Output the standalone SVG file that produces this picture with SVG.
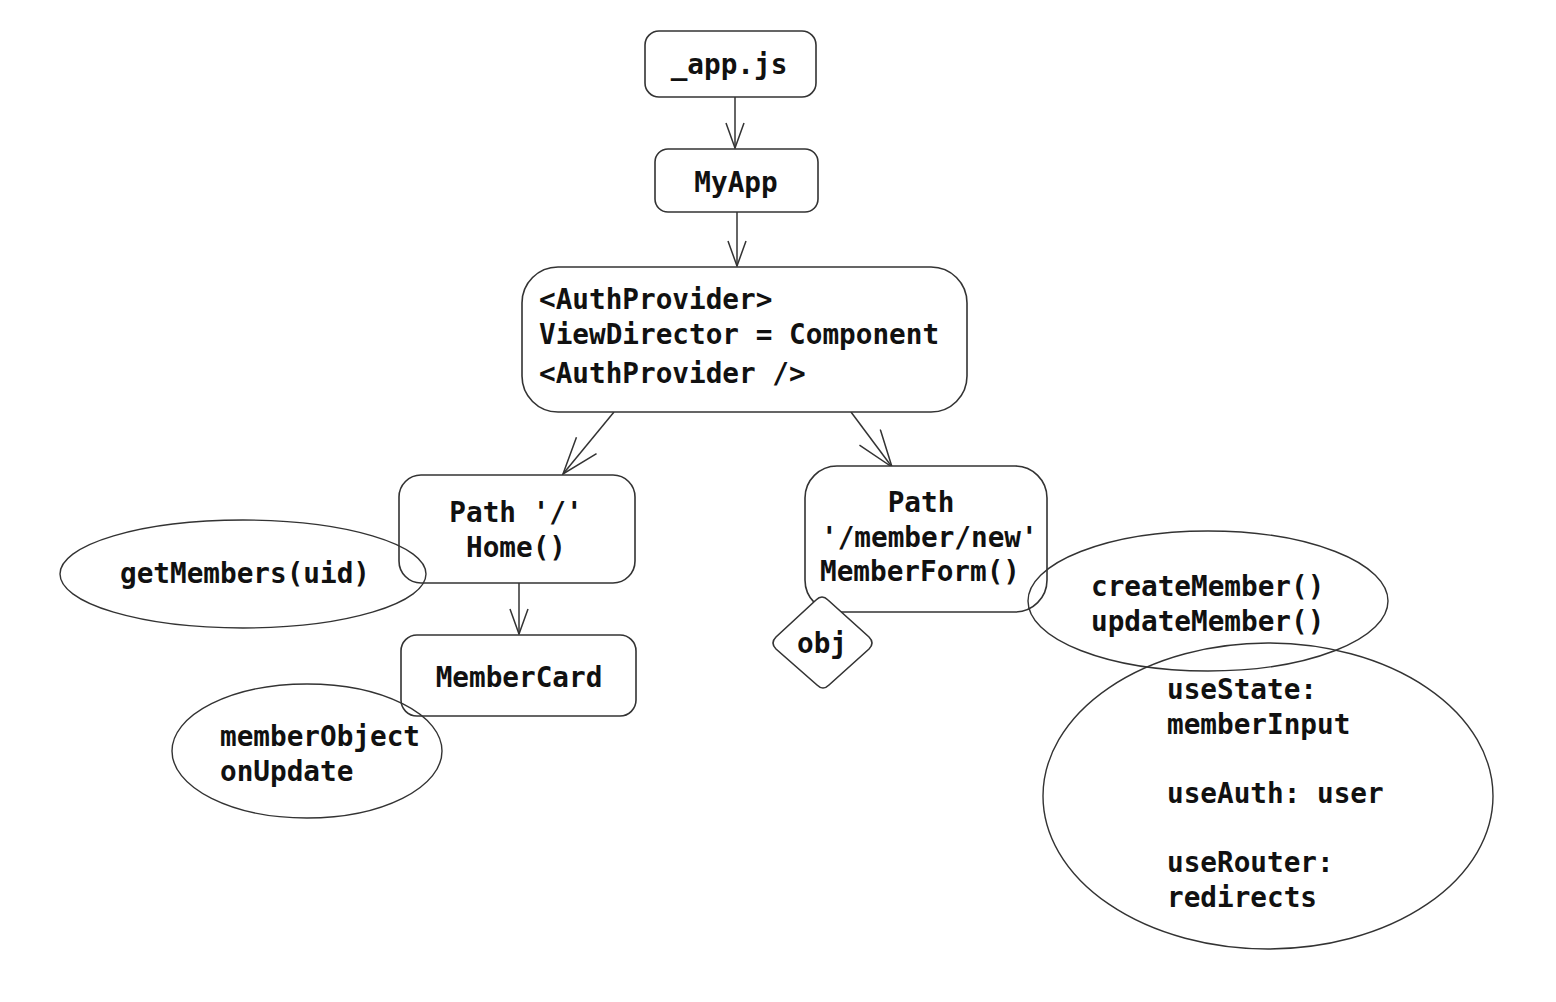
<svg xmlns="http://www.w3.org/2000/svg" width="1556" height="1002" viewBox="0 0 1556 1002">
  <style>
    .box { fill: #ffffff; stroke: #333333; stroke-width: 1.6; }
    .shape { fill: none; stroke: #333333; stroke-width: 1.4; }
    .edge { fill: none; stroke: #333333; stroke-width: 1.5; }
    text { font-family: "DejaVu Sans Mono", "Liberation Mono", monospace; font-size: 27.7px; font-weight: 600; fill: #111111; }
    .mid { text-anchor: middle; }
  </style>
  <defs>
    <marker id="vee" markerUnits="userSpaceOnUse" markerWidth="30" markerHeight="24" refX="26" refY="10" orient="auto">
      <path d="M1,1 L26,10 L1,19" fill="none" stroke="#333333" stroke-width="1.5"/>
    </marker>
    <marker id="vee-lg" markerUnits="userSpaceOnUse" markerWidth="42" markerHeight="30" refX="38" refY="14" orient="auto">
      <path d="M1,1 L38,14 L1,27" fill="none" stroke="#333333" stroke-width="1.5"/>
    </marker>
  </defs>

  <!-- connectors -->
  <g id="connectors">
    <line class="edge" x1="735" y1="97" x2="735" y2="148" marker-end="url(#vee)"/>
    <line class="edge" x1="737" y1="212" x2="737" y2="266" marker-end="url(#vee)"/>
    <line class="edge" x1="614" y1="412" x2="563" y2="474" marker-end="url(#vee-lg)"/>
    <line class="edge" x1="851" y1="412" x2="892" y2="467" marker-end="url(#vee-lg)"/>
    <line class="edge" x1="519" y1="583" x2="519" y2="634" marker-end="url(#vee)"/>
  </g>

  <g id="app-js">
    <rect class="box" x="645" y="31" width="171" height="66" rx="14"/>
    <text class="mid" x="729" y="74">_app.js</text>
  </g>

  <g id="my-app">
    <rect class="box" x="655" y="149" width="163" height="63" rx="13"/>
    <text class="mid" x="736" y="192">MyApp</text>
  </g>

  <g id="auth-provider">
    <rect class="box" x="522" y="267" width="445" height="145" rx="36"/>
    <text x="539" y="309">&lt;AuthProvider&gt;</text>
    <text x="539" y="344">ViewDirector = Component</text>
    <text x="539" y="383">&lt;AuthProvider /&gt;</text>
  </g>

  <g id="path-home">
    <rect class="box" x="399" y="475" width="236" height="108" rx="22"/>
    <text class="mid" x="516" y="522">Path '/'</text>
    <text class="mid" x="516" y="557">Home()</text>
  </g>

  <g id="get-members">
    <ellipse class="shape" cx="243" cy="574" rx="183" ry="54"/>
    <text x="120" y="583">getMembers(uid)</text>
  </g>

  <g id="member-card">
    <rect class="box" x="401" y="635" width="235" height="81" rx="16"/>
    <text class="mid" x="519" y="687">MemberCard</text>
  </g>

  <g id="member-props">
    <ellipse class="shape" cx="307" cy="751" rx="135" ry="67"/>
    <text x="220" y="746">memberObject</text>
    <text x="220" y="781">onUpdate</text>
  </g>

  <g id="member-form">
    <rect class="box" x="805" y="466" width="242" height="146" rx="32"/>
    <text class="mid" x="921" y="512">Path</text>
    <text x="821" y="547">'/member/new'</text>
    <text x="820" y="581">MemberForm()</text>
  </g>

  <g id="obj">
    <path class="box" d="M816,600 Q822,594 828,600 L869,637 Q875,643 869,649 L829,685 Q823,691 817,685 L776,649 Q770,643 776,637 Z"/>
    <text class="mid" x="822" y="653">obj</text>
  </g>

  <g id="member-api">
    <ellipse class="shape" cx="1208" cy="601" rx="180" ry="70"/>
    <text x="1091" y="596">createMember()</text>
    <text x="1091" y="631">updateMember()</text>
  </g>

  <g id="hooks">
    <ellipse class="shape" cx="1268" cy="796" rx="225" ry="153"/>
    <text x="1167" y="699">useState:</text>
    <text x="1167" y="734">memberInput</text>
    <text x="1167" y="803">useAuth: user</text>
    <text x="1167" y="872">useRouter:</text>
    <text x="1167" y="907">redirects</text>
  </g>
</svg>
